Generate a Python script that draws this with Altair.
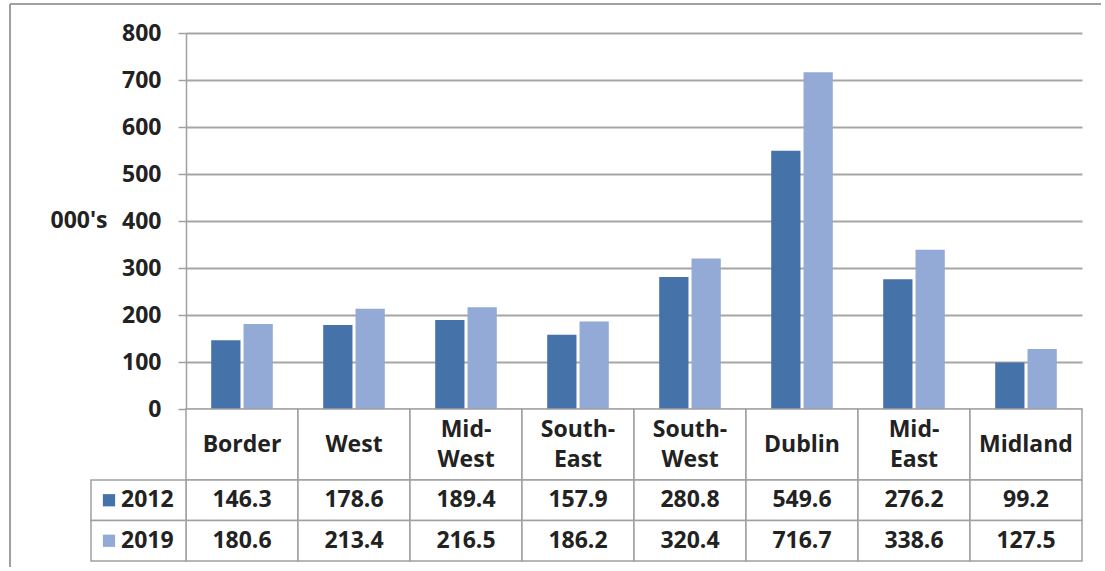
import altair as alt
import pandas as pd

regions = ["Border", "West", "Mid-West", "South-East", "South-West", "Dublin", "Mid-East", "Midland"]
header_labels = ["Border", "West", "Mid-\nWest", "South-\nEast", "South-\nWest", "Dublin", "Mid-\nEast", "Midland"]
years = ["2012", "2019"]
v2012 = [146.3, 178.6, 189.4, 157.9, 280.8, 549.6, 276.2, 99.2]
v2019 = [180.6, 213.4, 216.5, 186.2, 320.4, 716.7, 338.6, 127.5]
y_ticks = [0, 100, 200, 300, 400, 500, 600, 700, 800]

DARK = "#4672AA"
LIGHT = "#93AAD6"
GRID = "#A6A6A6"
LINE = "#A0A0A0"
FONT = "Open Sans"
FS = 23
TXT = "#222222"

rows = []
for r, a, b in zip(regions, v2012, v2019):
    rows.append({"region": r, "year": "2012", "value": a})
    rows.append({"region": r, "year": "2019", "value": b})
df = pd.DataFrame(rows)
hdr = pd.DataFrame({"region": regions, "label": header_labels})
one = pd.DataFrame({"a": [0]})

color = alt.Color("year:N", scale=alt.Scale(domain=years, range=[DARK, LIGHT]), legend=None)

bars = alt.Chart(df).mark_bar().encode(
    x=alt.X("region:N", sort=regions, scale=alt.Scale(paddingInner=0.45, paddingOuter=0.225), axis=None),
    xOffset=alt.XOffset("year:N", sort=years, scale=alt.Scale(paddingInner=0.094)),
    y=alt.Y("value:Q", scale=alt.Scale(domain=[0, 800], nice=False),
            axis=alt.Axis(values=y_ticks, grid=True, gridColor=GRID, gridWidth=2,
                          domainColor=LINE, domainWidth=1.5, tickColor=LINE, tickWidth=1.5,
                          tickSize=8, labelPadding=17, labelFont=FONT, labelFontSize=FS,
                          labelFontWeight="bold", labelColor=TXT,
                          title="000's", titleAngle=0, titleX=-79, titleY=187,
                          titleAlign="right", titleBaseline="middle", titleFont=FONT,
                          titleFontSize=FS, titleFontWeight="bold", titleColor=TXT)),
    color=color,
)

border_v = alt.Chart(one).mark_rule(color=LINE, strokeWidth=2).encode(
    x=alt.value(-176), y=alt.value(-29), y2=alt.value(534))
border_h = alt.Chart(one).mark_rule(color=LINE, strokeWidth=2).encode(
    x=alt.value(-176), x2=alt.value(915), y=alt.value(-29))

top = alt.layer(bars, border_v, border_h).properties(width=896, height=376)

xband = alt.X("region:N", sort=regions, scale=alt.Scale(paddingInner=0, paddingOuter=0), axis=None)

hdr_rect = alt.Chart(hdr).mark_rect(fill="white", stroke=LINE, strokeWidth=1.5).encode(
    x=xband, y=alt.value(0), y2=alt.value(71))
hdr_text1 = alt.Chart(hdr).transform_filter(
    "indexof(datum.label, '\\n') < 0"
).mark_text(font=FONT, fontSize=FS, fontWeight="bold", color=TXT, baseline="middle").encode(
    x=xband, y=alt.value(36), text="label:N")
hdr_text2 = alt.Chart(hdr).transform_filter(
    "indexof(datum.label, '\\n') >= 0"
).mark_text(lineBreak="\n", lineHeight=30, font=FONT, fontSize=FS, fontWeight="bold",
            color=TXT, baseline="middle").encode(
    x=xband, y=alt.value(21), text="label:N")
header = alt.layer(hdr_rect, hdr_text1, hdr_text2).properties(width=896, height=71)

yrow = alt.Y("year:N", sort=years, scale=alt.Scale(domain=years, paddingInner=0, paddingOuter=0), axis=None)
val_rect = alt.Chart(df).mark_rect(fill="white", stroke=LINE, strokeWidth=1.5).encode(x=xband, y=yrow)
val_text = alt.Chart(df).mark_text(font=FONT, fontSize=FS, fontWeight="bold", color=TXT,
                                   baseline="middle").encode(
    x=xband, y=yrow, text=alt.Text("value:Q", format=".1f"))
leg_df = pd.DataFrame({"year": years})
leg_rect = alt.Chart(leg_df).mark_rect(fill="white", stroke=LINE, strokeWidth=1.5).encode(
    x=alt.value(-95), x2=alt.value(0), y=yrow)
leg_sq = alt.Chart(leg_df).mark_point(shape="square", filled=True, size=150, opacity=1).encode(
    x=alt.value(-77), y=yrow, color=color)
leg_txt = alt.Chart(leg_df).mark_text(align="left", baseline="middle", font=FONT, fontSize=FS,
                                      fontWeight="bold", color=TXT).encode(
    x=alt.value(-65), y=yrow, text="year:N")
values = alt.layer(val_rect, val_text, leg_rect, leg_sq, leg_txt).properties(width=896, height=81)

chart = alt.vconcat(top, header, values, spacing=0, bounds="flush").resolve_scale(
    x="independent", y="independent"
).configure_view(stroke=None).properties(
    padding={"left": 9, "top": 3, "right": 0, "bottom": 0}, background="white"
)

chart.save("out.html", embed_options={"renderer": "svg", "actions": False})
